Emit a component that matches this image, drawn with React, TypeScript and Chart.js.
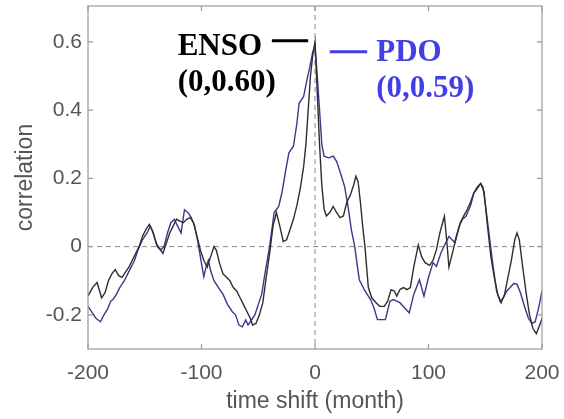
import React, { useEffect, useRef } from "react";
import { Chart, registerables } from "chart.js";

Chart.register(...registerables);

// ---- data ----
const ensoMonths = [
  -200, -196, -192, -188, -185, -182, -179, -176, -173, -170, -167, -164, -161, -158, -155, -152, -149, -146, -143, -140,
  -137, -134, -131, -128, -125, -122, -119, -116, -113, -110, -107, -104, -101, -98, -95, -92, -89, -87, -84, -81,
  -78, -75, -72, -69, -66, -63, -60, -57, -55, -52, -49, -46, -43, -40, -37, -34, -31, -28, -25, -22,
  -19, -16, -13, -10, -8, -6, -4, -2, 0, 2, 4, 6, 8, 10, 13, 16, 19, 22, 25, 28,
  31, 34, 36, 38, 40, 42, 44, 47, 50, 54, 57, 61, 64, 67, 70, 72, 75, 78, 81, 84,
  87, 91, 94, 97, 101, 104, 107, 110, 114, 116, 118, 121, 124, 128, 131, 134, 137, 140, 143, 146,
  149, 152, 155, 158, 161, 164, 167, 170, 173, 176, 178, 180, 183, 186, 189, 192, 195, 198, 200,
];
const ensoValues = [
  -0.145, -0.12, -0.105, -0.15, -0.135, -0.1, -0.08, -0.067, -0.085, -0.09, -0.075, -0.06, -0.04, -0.02, 0.0, 0.03, 0.05, 0.065, 0.045, 0.01,
  -0.005, -0.02, 0.01, 0.04, 0.06, 0.08, 0.075, 0.07, 0.08, 0.085, 0.07, 0.03, -0.01, -0.04, -0.06, -0.03, 0.0, -0.01, -0.05, -0.08,
  -0.09, -0.1, -0.12, -0.13, -0.15, -0.17, -0.19, -0.21, -0.23, -0.225, -0.2, -0.165, -0.09, -0.02, 0.06, 0.1, 0.06, 0.015, 0.02, 0.05,
  0.08, 0.12, 0.17, 0.235, 0.3, 0.4, 0.5, 0.56, 0.6, 0.45, 0.3, 0.18, 0.11, 0.09, 0.1, 0.118, 0.1, 0.085, 0.09, 0.13,
  0.15, 0.18, 0.206, 0.19, 0.13, 0.06, 0.0, -0.12, -0.15, -0.165, -0.175, -0.175, -0.16, -0.126, -0.13, -0.145, -0.125, -0.12, -0.126, -0.12,
  -0.06, 0.005, -0.03, -0.047, -0.055, -0.04, -0.009, 0.04, 0.089, 0.02, -0.06, -0.02, 0.02, 0.07, 0.09, 0.108, 0.13, 0.158, 0.175, 0.185,
  0.16, 0.06, -0.03, -0.09, -0.14, -0.165, -0.14, -0.09, -0.04, 0.02, 0.04, 0.02, -0.06, -0.135, -0.2, -0.24, -0.255, -0.23, -0.21,
];

const pdoMonths = [
  -200, -197, -193, -189, -186, -183, -180, -178, -175, -172, -168, -165, -162, -159, -156, -152, -148, -145, -142, -139,
  -136, -133, -130, -127, -124, -121, -118, -115, -112, -109, -106, -103, -100, -98, -96, -94, -92, -89, -85, -81,
  -77, -73, -70, -67, -64, -61, -59, -56, -53, -50, -47, -44, -40, -36, -32, -29, -26, -23, -19, -16,
  -14, -10, -7, -5, -2, 0, 2, 4, 6, 8, 12, 16, 19, 22, 26, 29, 32, 35, 39, 44,
  49, 52, 55, 58, 62, 66, 69, 72, 75, 79, 83, 87, 92, 96, 100, 104, 107, 111, 115, 118,
  123, 127, 130, 133, 137, 140, 143, 146, 148, 151, 154, 157, 160, 163, 166, 169, 172, 175, 178, 181,
  185, 188, 191, 194, 197, 200,
];
const pdoValues = [
  -0.175, -0.19, -0.21, -0.22, -0.2, -0.185, -0.16, -0.155, -0.14, -0.12, -0.1, -0.08, -0.06, -0.04, -0.01, 0.02, 0.04, 0.06, 0.035, 0.0,
  -0.01, 0.0, 0.04, 0.07, 0.08, 0.06, 0.04, 0.108, 0.1, 0.085, 0.06, 0.01, -0.05, -0.088, -0.06, -0.04, -0.07, -0.1, -0.12, -0.14,
  -0.17, -0.19, -0.2, -0.23, -0.235, -0.215, -0.23, -0.215, -0.2, -0.17, -0.14, -0.077, 0.0, 0.1, 0.118, 0.16, 0.22, 0.275, 0.294, 0.36,
  0.42, 0.44, 0.49, 0.52, 0.57, 0.59, 0.5, 0.4, 0.3, 0.265, 0.26, 0.265, 0.25, 0.22, 0.177, 0.12, 0.05, 0.0, -0.097, -0.13,
  -0.155, -0.18, -0.214, -0.214, -0.214, -0.16, -0.155, -0.16, -0.165, -0.18, -0.194, -0.14, -0.097, -0.145, -0.09, -0.047, -0.058, -0.018, 0.01, 0.03,
  0.012, 0.06, 0.08, 0.089, 0.12, 0.157, 0.17, 0.185, 0.175, 0.1, 0.02, -0.06, -0.13, -0.16, -0.15, -0.13, -0.12, -0.108, -0.11, -0.135,
  -0.18, -0.21, -0.225, -0.22, -0.18, -0.13,
];

const xTicks = [-200, -100, 0, 100, 200];
const yTicks = [-0.2, 0, 0.2, 0.4, 0.6];
const xLabel = "time shift (month)";
const yLabel = "correlation";

const ensoLabel = ["ENSO", "(0,0.60)"];
const pdoLabel = ["PDO", "(0,0.59)"];

const ENSO_COLOR = "#2e2e2e";
const PDO_COLOR = "#38388c";
const PDO_TEXT = "#4040e6";
const AXIS_TEXT = "#555555";

const toPoints = (xs: number[], ys: number[]) => xs.map((x, i) => ({ x, y: ys[i] }));

const decorPlugin = {
  id: "decor",
  beforeDatasetsDraw(chart: any) {
    const { ctx, chartArea, scales } = chart;
    const x0 = scales.x.getPixelForValue(0);
    const y0 = scales.y.getPixelForValue(0);
    ctx.save();
    ctx.strokeStyle = "#8a8a8a";
    ctx.lineWidth = 1;
    ctx.setLineDash([5, 4]);
    ctx.beginPath();
    ctx.moveTo(chartArea.left, y0);
    ctx.lineTo(chartArea.right, y0);
    ctx.moveTo(x0, chartArea.top);
    ctx.lineTo(x0, chartArea.bottom);
    ctx.stroke();
    ctx.restore();
  },
  afterDatasetsDraw(chart: any) {
    const { ctx, chartArea, scales } = chart;
    const sx = scales.x;
    const sy = scales.y;
    ctx.save();
    // box
    ctx.strokeStyle = "#9a9a9a";
    ctx.lineWidth = 1.2;
    ctx.strokeRect(chartArea.left, chartArea.top, chartArea.right - chartArea.left, chartArea.bottom - chartArea.top);
    // inward ticks
    ctx.beginPath();
    xTicks.forEach((v) => {
      const p = sx.getPixelForValue(v);
      ctx.moveTo(p, chartArea.bottom);
      ctx.lineTo(p, chartArea.bottom - 5);
      ctx.moveTo(p, chartArea.top);
      ctx.lineTo(p, chartArea.top + 5);
    });
    yTicks.forEach((v) => {
      const p = sy.getPixelForValue(v);
      ctx.moveTo(chartArea.left, p);
      ctx.lineTo(chartArea.left + 5, p);
      ctx.moveTo(chartArea.right, p);
      ctx.lineTo(chartArea.right - 5, p);
    });
    ctx.stroke();

    // annotations
    ctx.font = "bold 31px 'Liberation Serif', 'Times New Roman', serif";
    ctx.textAlign = "left";
    ctx.textBaseline = "alphabetic";
    // ENSO
    ctx.fillStyle = "#000";
    ctx.fillText(ensoLabel[0], sx.getPixelForValue(-121), sy.getPixelForValue(0.562));
    ctx.fillText(ensoLabel[1], sx.getPixelForValue(-121), sy.getPixelForValue(0.457));
    ctx.strokeStyle = "#000";
    ctx.lineWidth = 3;
    ctx.beginPath();
    ctx.moveTo(sx.getPixelForValue(-38), sy.getPixelForValue(0.603));
    ctx.lineTo(sx.getPixelForValue(-6), sy.getPixelForValue(0.603));
    ctx.stroke();
    // PDO
    ctx.fillStyle = PDO_TEXT;
    ctx.fillText(pdoLabel[0], sx.getPixelForValue(54), sy.getPixelForValue(0.543));
    ctx.fillText(pdoLabel[1], sx.getPixelForValue(54), sy.getPixelForValue(0.439));
    ctx.strokeStyle = PDO_TEXT;
    ctx.beginPath();
    ctx.moveTo(sx.getPixelForValue(13), sy.getPixelForValue(0.571));
    ctx.lineTo(sx.getPixelForValue(46), sy.getPixelForValue(0.571));
    ctx.stroke();
    ctx.restore();
  },
};

export default function App() {
  const ref = useRef<HTMLCanvasElement | null>(null);

  useEffect(() => {
    if (!ref.current) return;
    const tickFont = { family: "'Liberation Sans', Arial, sans-serif", size: 21 };
    const chart = new Chart(ref.current, {
      type: "line",
      data: {
        datasets: [
          {
            label: "ENSO",
            data: toPoints(ensoMonths, ensoValues),
            borderColor: ENSO_COLOR,
            borderWidth: 1.4,
            pointRadius: 0,
            tension: 0,
            fill: false,
          },
          {
            label: "PDO",
            data: toPoints(pdoMonths, pdoValues),
            borderColor: PDO_COLOR,
            borderWidth: 1.4,
            pointRadius: 0,
            tension: 0,
            fill: false,
          },
        ],
      },
      options: {
        responsive: false,
        animation: false,
        devicePixelRatio: 1,
        layout: { padding: { left: 0, top: 6, right: 22, bottom: 0 } },
        plugins: { legend: { display: false }, tooltip: { enabled: false } },
        scales: {
          x: {
            type: "linear",
            min: -200,
            max: 200,
            grid: { display: false, drawTicks: false },
            border: { display: false },
            afterBuildTicks: (s: any) => {
              s.ticks = xTicks.map((v) => ({ value: v }));
            },
            afterFit: (s: any) => {
              s.height = 70;
              s.paddingLeft = 0;
              s.paddingRight = 0;
            },
            ticks: { padding: 12, color: AXIS_TEXT, font: tickFont, callback: (v: any) => String(v) },
            title: {
              display: true,
              text: xLabel,
              color: AXIS_TEXT,
              font: { family: "'Liberation Sans', Arial, sans-serif", size: 23 },
              padding: { top: 0, bottom: 4 },
            },
          },
          y: {
            type: "linear",
            min: -0.3,
            max: 0.705,
            grid: { display: false, drawTicks: false },
            border: { display: false },
            afterBuildTicks: (s: any) => {
              s.ticks = yTicks.map((v) => ({ value: v }));
            },
            afterFit: (s: any) => {
              s.width = 88;
              s.paddingTop = 0;
              s.paddingBottom = 0;
            },
            ticks: {
              padding: 6,
              color: AXIS_TEXT,
              font: tickFont,
              callback: (v: any) => (Math.abs(v) < 1e-9 ? "0" : String(Math.round(v * 10) / 10)),
            },
            title: {
              display: true,
              text: yLabel,
              color: AXIS_TEXT,
              font: { family: "'Liberation Sans', Arial, sans-serif", size: 23 },
              padding: { top: 12, bottom: 0 },
            },
          },
        },
      },
      plugins: [decorPlugin],
    });
    return () => chart.destroy();
  }, []);

  return (
    <div style={{ position: "fixed", left: 0, top: 0, width: 564, height: 419, background: "#fff" }}>
      <canvas ref={ref} width={564} height={419} style={{ display: "block", width: 564, height: 419 }} />
    </div>
  );
}
